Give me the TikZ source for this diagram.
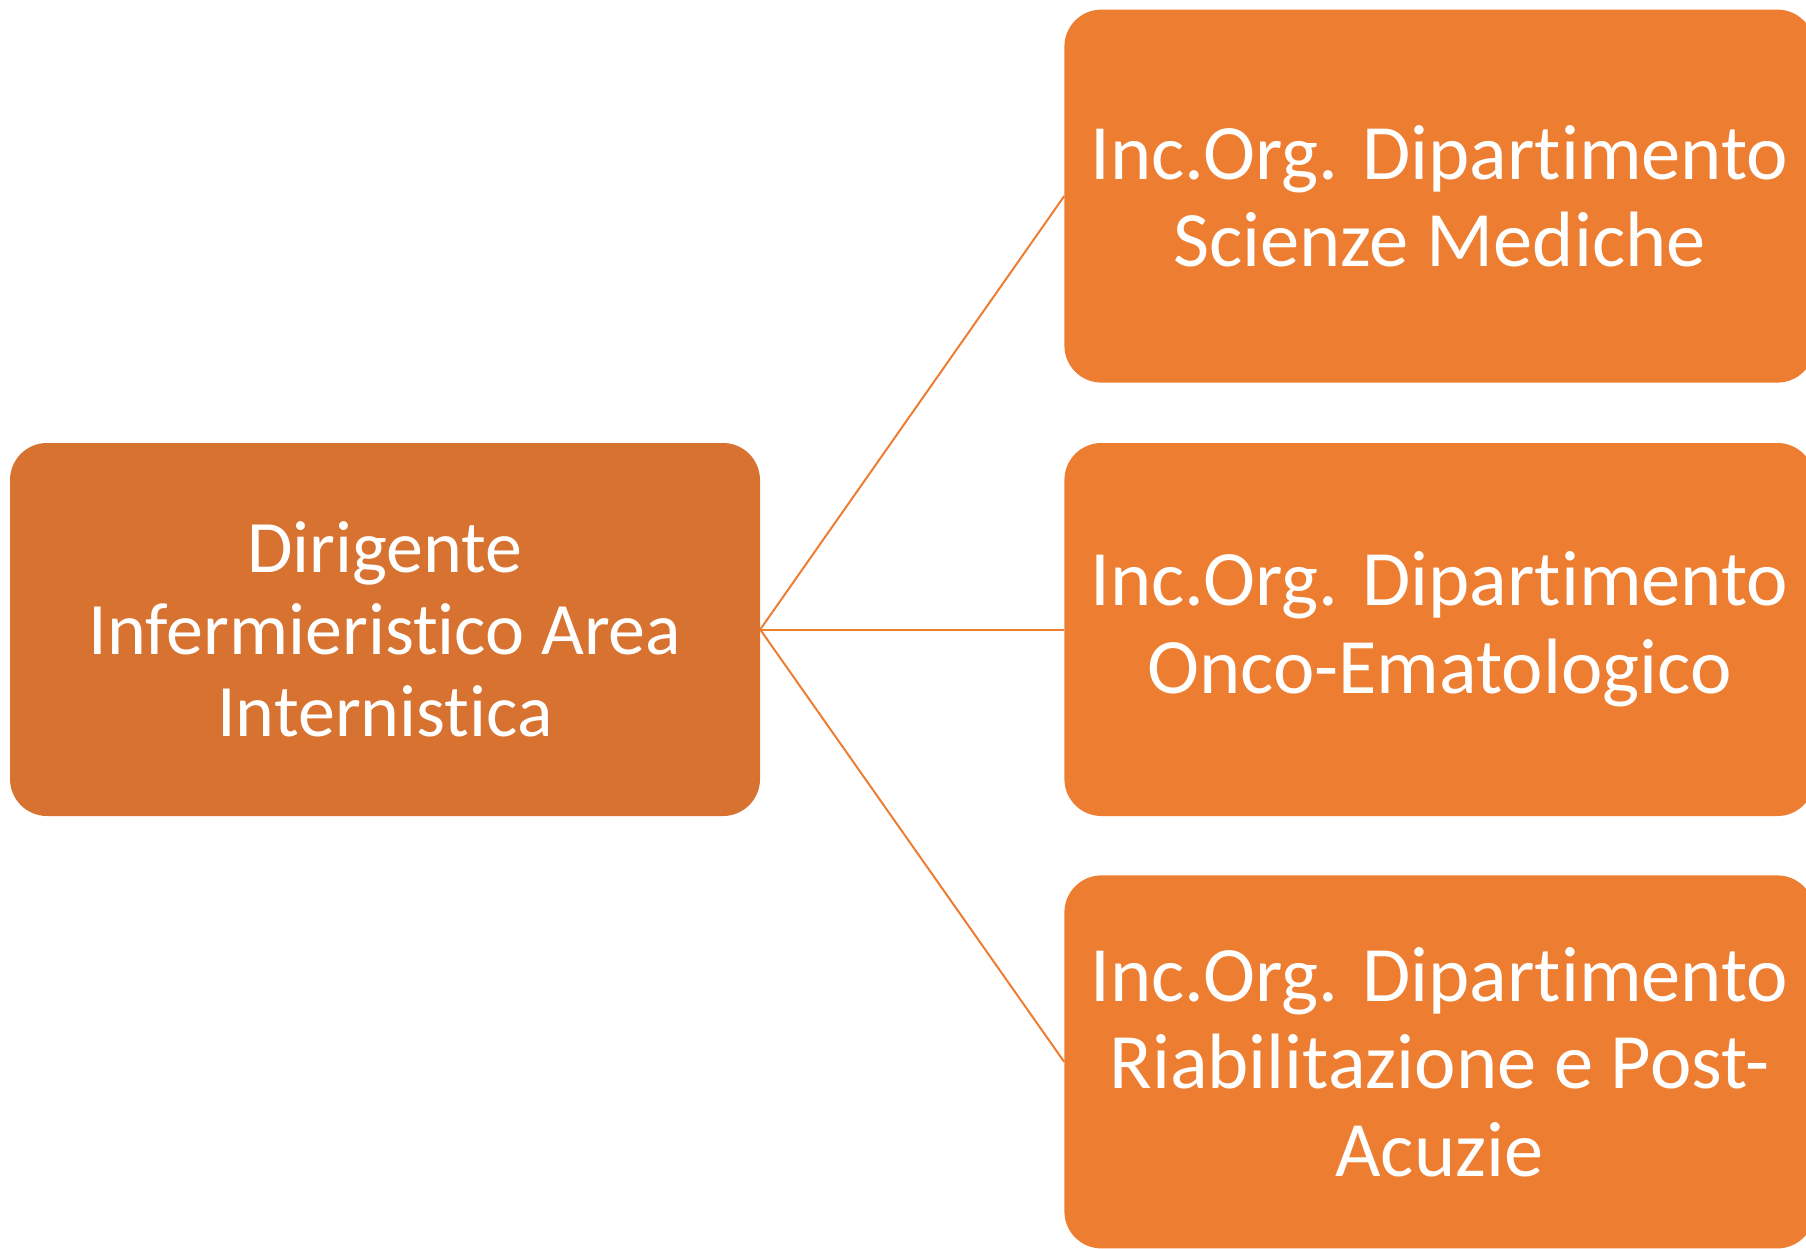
\documentclass[tikz,border=0pt]{standalone}
\usepackage{fontspec}
\setmainfont{Carlito}[Ligatures=NoCommon]
\usetikzlibrary{positioning}
\definecolor{headorange}{HTML}{D77230}
\definecolor{deptorange}{HTML}{ED7D31}
\tikzset{
	node distance=60pt, % vertical gap between the department boxes
	box/.style={rounded corners=37pt, minimum width=750pt, minimum height=373pt, inner sep=0pt, align=center, text=white}, % common look of every box
	head/.style={box, fill=headorange, font=\fontsize{74}{82}\selectfont}, % the left box
	dept/.style={box, fill=deptorange, font=\fontsize{78.5}{87.6}\selectfont}, % the boxes on the right
	link/.style={draw=deptorange, line width=2pt}, % connectors
}

\begin{document}
\begin{tikzpicture}
					\useasboundingbox (0pt,0pt) rectangle (1806pt,-1248pt);
					\node[head] (dir) at (385pt,-629.5pt) {Dirigente\\Infermieristico Area\\Internistica};
					\node[dept, right=304pt of dir] (onco) {Inc.Org. Dipartimento\\Onco-Ematologico};
					\node[dept, above=of onco] (sci) {Inc.Org. Dipartimento\\Scienze Mediche};
					\node[dept, below=59pt of onco] (riab) {Inc.Org. Dipartimento\\Riabilitazione e Post-\\Acuzie};
					\draw[link] (dir.east) edge (sci.west)
							(dir.east) edge (onco.west)
							(dir.east) edge (riab.west);
				\end{tikzpicture}
\end{document}
